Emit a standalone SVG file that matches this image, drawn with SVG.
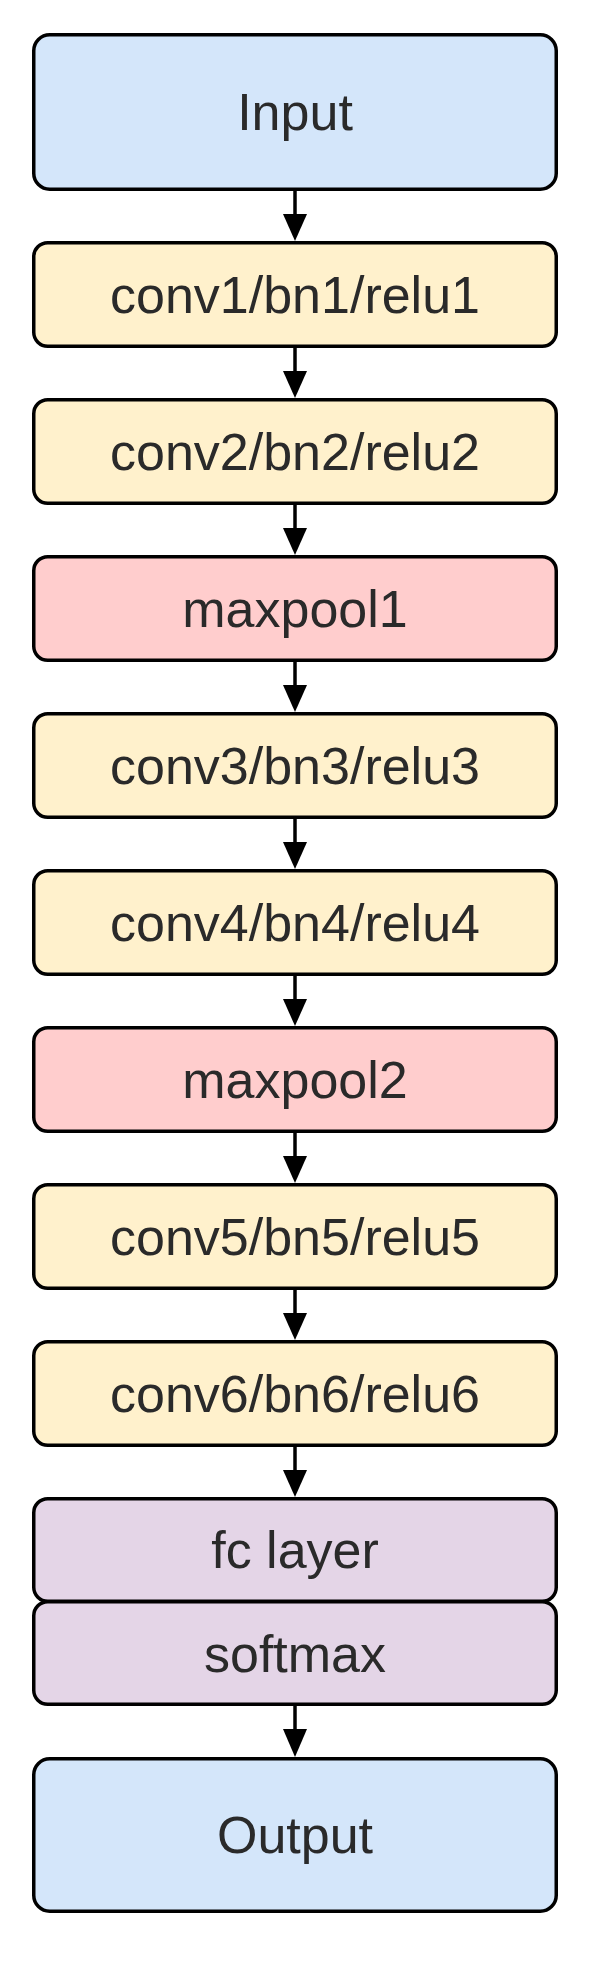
<svg xmlns="http://www.w3.org/2000/svg" width="603" height="1966" viewBox="0 0 603 1966">
<style>
.box{stroke:#000;stroke-width:3.5}
.blue{fill:#d4e6fa}
.yellow{fill:#fff1cc}
.red{fill:#ffcdcd}
.purple{fill:#e4d5e7}
.lbl{font-family:"Liberation Sans",Arial,sans-serif;font-size:52px;fill:#2a2a2a;text-anchor:middle}
.conn line{stroke:#000;stroke-width:3.5}
.conn polygon{fill:#000}
</style>
<rect width="603" height="1966" fill="#fff"/>
<g id="input"><rect class="box blue" x="33.75" y="34.75" width="522.5" height="154.5" rx="16"/><text class="lbl" x="295" y="130">Input</text></g>
<g id="conv1"><rect class="box yellow" x="33.75" y="242.75" width="522.5" height="103.5" rx="14"/><text class="lbl" x="295" y="313">conv1/bn1/relu1</text></g>
<g id="conv2"><rect class="box yellow" x="33.75" y="399.75" width="522.5" height="103.5" rx="14"/><text class="lbl" x="295" y="470">conv2/bn2/relu2</text></g>
<g id="maxpool1"><rect class="box red" x="33.75" y="556.75" width="522.5" height="103.5" rx="14"/><text class="lbl" x="295" y="627">maxpool1</text></g>
<g id="conv3"><rect class="box yellow" x="33.75" y="713.75" width="522.5" height="103.5" rx="14"/><text class="lbl" x="295" y="784">conv3/bn3/relu3</text></g>
<g id="conv4"><rect class="box yellow" x="33.75" y="870.75" width="522.5" height="103.5" rx="14"/><text class="lbl" x="295" y="941">conv4/bn4/relu4</text></g>
<g id="maxpool2"><rect class="box red" x="33.75" y="1027.75" width="522.5" height="103.5" rx="14"/><text class="lbl" x="295" y="1098">maxpool2</text></g>
<g id="conv5"><rect class="box yellow" x="33.75" y="1184.75" width="522.5" height="103.5" rx="14"/><text class="lbl" x="295" y="1255">conv5/bn5/relu5</text></g>
<g id="conv6"><rect class="box yellow" x="33.75" y="1341.75" width="522.5" height="103.5" rx="14"/><text class="lbl" x="295" y="1412">conv6/bn6/relu6</text></g>
<g id="fc"><rect class="box purple" x="33.75" y="1498.75" width="522.5" height="102.5" rx="14"/><text class="lbl" x="295" y="1568">fc layer</text></g>
<g id="softmax"><rect class="box purple" x="33.75" y="1601.75" width="522.5" height="102.5" rx="14"/><text class="lbl" x="295" y="1672">softmax</text></g>
<g id="output"><rect class="box blue" x="33.75" y="1758.75" width="522.5" height="152.5" rx="16"/><text class="lbl" x="295" y="1853">Output</text></g>
<g class="conn" id="connectors">
<line x1="295" y1="191" x2="295" y2="216"/><polygon points="283,214 307,214 295,241"/>
<line x1="295" y1="348" x2="295" y2="373"/><polygon points="283,371 307,371 295,398"/>
<line x1="295" y1="505" x2="295" y2="530"/><polygon points="283,528 307,528 295,555"/>
<line x1="295" y1="662" x2="295" y2="687"/><polygon points="283,685 307,685 295,712"/>
<line x1="295" y1="819" x2="295" y2="844"/><polygon points="283,842 307,842 295,869"/>
<line x1="295" y1="976" x2="295" y2="1001"/><polygon points="283,999 307,999 295,1026"/>
<line x1="295" y1="1133" x2="295" y2="1158"/><polygon points="283,1156 307,1156 295,1183"/>
<line x1="295" y1="1290" x2="295" y2="1315"/><polygon points="283,1313 307,1313 295,1340"/>
<line x1="295" y1="1447" x2="295" y2="1472"/><polygon points="283,1470 307,1470 295,1497"/>
<line x1="295" y1="1706" x2="295" y2="1731"/><polygon points="283,1729 307,1729 295,1757"/>
</g>
</svg>
